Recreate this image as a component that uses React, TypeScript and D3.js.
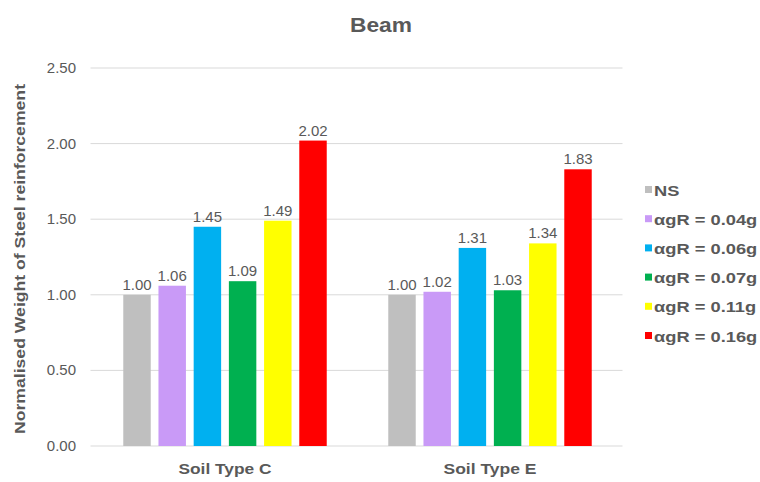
import React from "react";
import * as d3 from "d3";

const categories = ["Soil Type C", "Soil Type E"];
const seriesNames = ["NS", "αgR = 0.04g", "αgR = 0.06g", "αgR = 0.07g", "αgR = 0.11g", "αgR = 0.16g"];
const seriesColors = ["#BFBFBF", "#C99AF7", "#00B0F0", "#00B050", "#FFFF00", "#FF0000"];
const soilC = [1.0, 1.06, 1.45, 1.09, 1.49, 2.02];
const soilE = [1.0, 1.02, 1.31, 1.03, 1.34, 1.83];
const valuesByCategory = [soilC, soilE];
const yTicks = [0, 0.5, 1.0, 1.5, 2.0, 2.5];

const W = 760;
const H = 482;
const FONT = "'Liberation Sans', Arial, sans-serif";
const TEXT = "#595959";

export default function App() {
  const plot = { left: 92.5, right: 622.5, top: 68, bottom: 446 };

  const x0 = d3.scaleBand<string>().domain(categories).range([plot.left, plot.right]).padding(0);
  const x1 = d3
    .scaleBand<string>()
    .domain(seriesNames)
    .range([0, x0.bandwidth()])
    .paddingInner(0.22)
    .paddingOuter(0.874);
  const y = d3.scaleLinear().domain([0, 2.5]).range([plot.bottom, plot.top]);
  const fmt = d3.format(".2f");

  return (
    <svg
      width={W}
      height={H}
      style={{ position: "absolute", left: 0, top: 0, background: "#fff" }}
      fontFamily={FONT}
    >
      <rect x={0} y={0} width={W} height={H} fill="#fff" />

      {/* title */}
      <text x={381} y={32} textAnchor="middle" fontSize={20} fontWeight="bold" fill={TEXT}
        textLength={62} lengthAdjust="spacingAndGlyphs">
        Beam
      </text>

      {/* gridlines and y tick labels */}
      {yTicks.map((t) => (
        <g key={t}>
          <line x1={plot.left - 2} x2={plot.right} y1={y(t)} y2={y(t)} stroke="#D9D9D9" strokeWidth={1} />
          <text x={76} y={y(t) + 5} textAnchor="end" fontSize={15} fill={TEXT}>
            {fmt(t)}
          </text>
        </g>
      ))}

      {/* y axis title */}
      <text
        transform={`translate(25, 259) rotate(-90)`}
        textAnchor="middle"
        fontSize={15}
        fontWeight="bold"
        fill={TEXT}
        textLength={350}
        lengthAdjust="spacingAndGlyphs"
      >
        Normalised Weight of Steel reinforcement
      </text>

      {/* bars */}
      {categories.map((cat, ci) => (
        <g key={cat} transform={`translate(${x0(cat)},0)`}>
          {seriesNames.map((s, si) => {
            const v = valuesByCategory[ci][si];
            const bx = x1(s)!;
            const bw = x1.bandwidth();
            return (
              <g key={s}>
                <rect x={bx} y={y(v)} width={bw} height={y(0) - y(v)} fill={seriesColors[si]} />
                <text x={bx + bw / 2} y={y(v) - 5} textAnchor="middle" fontSize={15} fill={TEXT}>
                  {fmt(v)}
                </text>
              </g>
            );
          })}
          <text
            x={x0.bandwidth() / 2}
            y={474}
            textAnchor="middle"
            fontSize={15}
            fontWeight="bold"
            fill={TEXT}
            textLength={93}
            lengthAdjust="spacingAndGlyphs"
          >
            {cat}
          </text>
        </g>
      ))}

      {/* legend */}
      {seriesNames.map((s, i) => {
        const ly = 190 + i * 29.2;
        return (
          <g key={s} transform={`translate(645, ${ly})`}>
            <rect x={0} y={-4} width={7} height={7} fill={seriesColors[i]} />
            <g transform="translate(9,0) scale(1.22,1)">
              <text x={0} y={5.5} fontSize={15} fontWeight="bold" fill={TEXT}>
                {s}
              </text>
            </g>
          </g>
        );
      })}
    </svg>
  );
}
